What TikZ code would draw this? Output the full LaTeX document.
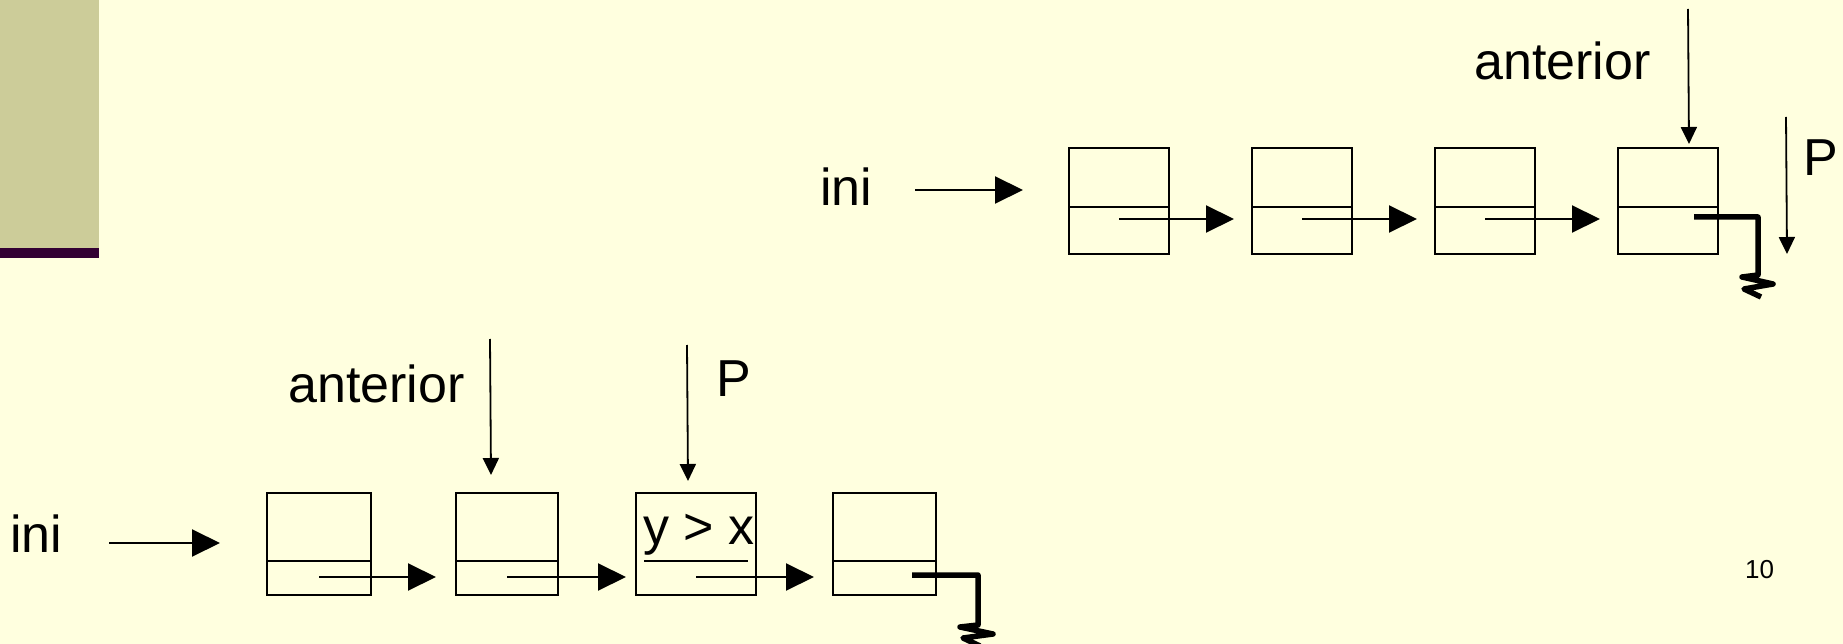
\documentclass[tikz,border=0pt]{standalone}
\usepackage{fontspec}
\setmainfont{Liberation Sans}
\usepackage{xcolor}
\usepackage{tikz}
\usetikzlibrary{arrows.meta}

\definecolor{slide}{HTML}{FFFFDF}
\definecolor{panel}{HTML}{CCCC99}
\definecolor{bar}{HTML}{330033}

\begin{document}
\begin{tikzpicture}[x=1pt, y=-1pt,
		cell/.style={rectangle, draw=black, line width=2pt, inner sep=0pt,
			minimum width=100pt, minimum height=106pt},
		lbl/.style={inner sep=0pt, anchor=base west, font=\fontsize{52}{60}\selectfont},
		nxt/.style={-{Triangle[length=28pt, width=27pt]}, line width=2pt},
		ptr/.style={-{Triangle[length=17pt, width=16pt]}, line width=1.8pt},
		nil/.style={line width=5.5pt, line join=round}
	]
		\useasboundingbox (0,0) rectangle (1843,644);
		\fill[slide] (0,0) rectangle (1843,644);
		\clip (0,0) rectangle (1843,644);
		\fill[panel] (0,0) rectangle (99,248);
		\fill[bar] (0,248) rectangle (99,258);

		\node[lbl] (ini1) at (820,206) {ini};
		\node[lbl] (ant1) at (1474,80) {anterior};
		\node[lbl] (p1) at (1803,176) {P};
		\foreach \i in {1,...,4} {
				\node[cell] (t\i) at ({1119+183*(\i-1)},201) {};
				\draw[line width=2pt] ([yshift=48pt]t\i.south west) -- ([yshift=48pt]t\i.south east);
			}
		\foreach \i/\j in {1/2,2/3,3/4} {
				\draw[nxt] ([yshift=-18pt]t\i.center) -- ([shift={(-17pt,-18pt)}]t\j.west);
			}
		\draw[nxt] ([shift={(43pt,11pt)}]ini1.east |- t1.west) -- ([shift={(-45pt,11pt)}]t1.west);
		\coordinate (a1) at (1688,9);
		\draw[ptr] (a1) -- ([shift={(21pt,3pt)}]t4.north);
		\coordinate (q1) at (1786,117);
		\draw[ptr] (q1) -- ([shift={(68pt,1pt)}]t4.south east);
		\draw[nil] ([shift={(26pt,-16pt)}]t4.center) -- ++(64,0) -- ++(0,58)
		-- ++(-16,2) -- ++(31,7) -- ++(-29,5) -- ++(17,8);

		\node[lbl] (ini2) at (10,552) {ini};
		\node[lbl] (ant2) at (288,402) {anterior};
		\node[lbl] (p2) at (716,396) {P};
		\node[cell, minimum width=104pt, minimum height=102pt] (b1) at (319,544) {};
		\node[cell, minimum width=102pt, minimum height=102pt] (b2) at (507,544) {};
		\node[cell, minimum width=120pt, minimum height=102pt] (b3) at (696,544) {};
		\node[cell, minimum width=103pt, minimum height=102pt] (b4) at (884.5,544) {};
		\node[lbl] (cond) at (643,544) {y > x};
		\foreach \b in {b1,b2,b4} {
				\draw[line width=2pt] ([yshift=35pt]\b.south west) -- ([yshift=35pt]\b.south east);
			}
		\draw[line width=2pt] ([shift={(9pt,35pt)}]b3.south west) -- ([shift={(-9pt,35pt)}]b3.south east);
		\foreach \i/\j/\g in {1/2/19,2/3/9,3/4/18} {
				\draw[nxt] ([yshift=-33pt]b\i.center) -- ([shift={(-\g pt,-33pt)}]b\j.west);
			}
		\draw[nxt] ([shift={(47pt,1pt)}]ini2.east |- b1.west) -- ([shift={(-46pt,1pt)}]b1.west);
		\coordinate (a2) at (490,339);
		\draw[ptr] (a2) -- ([shift={(-16pt,17pt)}]b2.north);
		\coordinate (q2) at (687,345);
		\draw[ptr] (q2) -- ([shift={(-8pt,11pt)}]b3.north);
		\draw[nil] ([shift={(27.5pt,-31pt)}]b4.center) -- ++(66,0) -- ++(0,50)
		-- ++(-18,2) -- ++(33,7) -- ++(-30,4) -- ++(17,8);

		\node[lbl, font=\fontsize{26}{30}\selectfont] (num) at (1745,578) {10};
	\end{tikzpicture}
\end{document}
